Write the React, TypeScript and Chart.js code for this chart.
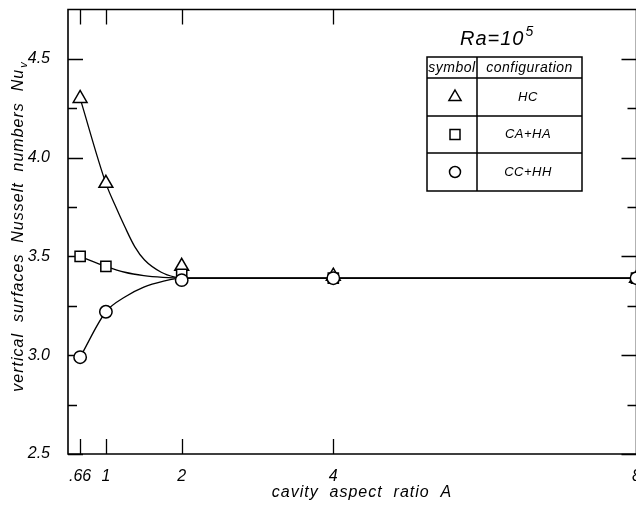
import React, { useEffect, useRef } from "react";
import { Chart, registerables } from "chart.js";

Chart.register(...registerables);

// ---- data ----
const xTickValues = [0.66, 1, 2, 4, 8];
const xTickLabels = [".66", "1", "2", "4", "8"];
const yMajorTicks = [2.5, 3.0, 3.5, 4.0, 4.5];
const yMinorTicks = [2.75, 3.25, 3.75, 4.25];

const aspectRatios = [0.66, 1, 2, 4, 8];
const hcValues = [4.3, 3.87, 3.45, 3.4, 3.39];
const caHaValues = [3.5, 3.45, 3.41, 3.39, 3.39];
const ccHhValues = [2.99, 3.22, 3.38, 3.39, 3.39];

// fitted curves drawn through the figure
const hcCurveX = [0.66, 1, 1.12, 1.25, 1.38, 1.51, 1.73, 1.91, 2, 4, 8];
const hcCurve = [4.3, 3.87, 3.76, 3.65, 3.55, 3.482, 3.42, 3.395, 3.39, 3.39, 3.39];
const curveX = [0.66, 1, 1.25, 1.5, 1.75, 2, 4, 8];
const caHaCurve = [3.5, 3.45, 3.42, 3.403, 3.394, 3.39, 3.39, 3.39];
const ccHhCurve = [2.99, 3.22, 3.295, 3.345, 3.374, 3.39, 3.39, 3.39];

const legendSymbols = ["triangle", "rect", "circle"];
const legendLabels = ["HC", "CA+HA", "CC+HH"];

const FONT = "'Liberation Sans', Arial, sans-serif";

function pts(xs: number[], ys: number[]) {
  return xs.map((x, i) => ({ x, y: ys[i] }));
}

function drawMarker(ctx: CanvasRenderingContext2D, kind: string, x: number, y: number) {
  ctx.save();
  ctx.lineWidth = 1.5;
  ctx.strokeStyle = "#000";
  ctx.fillStyle = "#fff";
  ctx.beginPath();
  if (kind === "triangle") {
    const r = 7;
    ctx.moveTo(x, y - r);
    ctx.lineTo(x + r * 0.866, y + r * 0.5);
    ctx.lineTo(x - r * 0.866, y + r * 0.5);
    ctx.closePath();
  } else if (kind === "rect") {
    ctx.rect(x - 5, y - 5, 10, 10);
  } else {
    ctx.arc(x, y, 5.5, 0, Math.PI * 2);
  }
  ctx.fill();
  ctx.stroke();
  ctx.restore();
}

const framePlugin = {
  id: "frameTicks",
  beforeDatasetsDraw(chart: any) {
    const { ctx, chartArea: a, scales } = chart;
    const xs = scales.x;
    const ys = scales.y;
    ctx.save();
    ctx.strokeStyle = "#000";
    ctx.lineWidth = 1.6;
    ctx.beginPath();
    ctx.moveTo(a.left, a.top);
    ctx.lineTo(a.right, a.top);
    ctx.lineTo(a.right, a.bottom);
    ctx.lineTo(a.left, a.bottom);
    ctx.closePath();
    ctx.stroke();
    ctx.lineWidth = 1.3;
    ctx.beginPath();
    for (const v of xTickValues) {
      const px = Math.round(xs.getPixelForValue(v)) + 0.5;
      ctx.moveTo(px, a.bottom);
      ctx.lineTo(px, a.bottom - 15);
      ctx.moveTo(px, a.top);
      ctx.lineTo(px, a.top + 15);
    }
    for (const v of yMajorTicks) {
      const py = Math.round(ys.getPixelForValue(v)) + 0.5;
      ctx.moveTo(a.left, py);
      ctx.lineTo(a.left + 15, py);
      ctx.moveTo(a.right, py);
      ctx.lineTo(a.right - 15, py);
    }
    for (const v of yMinorTicks) {
      const py = Math.round(ys.getPixelForValue(v)) + 0.5;
      ctx.moveTo(a.left, py);
      ctx.lineTo(a.left + 9, py);
      ctx.moveTo(a.right, py);
      ctx.lineTo(a.right - 9, py);
    }
    ctx.stroke();
    ctx.restore();
  },
  afterDraw(chart: any) {
    const { ctx } = chart;
    ctx.save();
    ctx.fillStyle = "#000";
    ctx.strokeStyle = "#000";
    (ctx as any).letterSpacing = "1px";

    // x axis title
    ctx.font = `italic 16px ${FONT}`;
    ctx.textAlign = "center";
    ctx.textBaseline = "middle";
    ctx.fillText("cavity  aspect  ratio  A", 362, 493);

    // y axis title (rotated)
    ctx.save();
    ctx.translate(19, 227);
    ctx.rotate(-Math.PI / 2);
    const main = "vertical  surfaces  Nusselt  numbers  Nu";
    ctx.font = `italic 16px ${FONT}`;
    const w1 = ctx.measureText(main).width;
    ctx.font = `italic 11px ${FONT}`;
    const w2 = ctx.measureText("v").width;
    const total = w1 + w2;
    ctx.textAlign = "left";
    ctx.font = `italic 16px ${FONT}`;
    ctx.fillText(main, -total / 2, 0);
    ctx.font = `italic 11px ${FONT}`;
    ctx.fillText("v", -total / 2 + w1 + 1, 5);
    ctx.restore();

    // Ra=10^5
    ctx.textAlign = "left";
    ctx.textBaseline = "alphabetic";
    ctx.font = `italic 20px ${FONT}`;
    ctx.fillText("Ra=10", 460, 45);
    const wr = ctx.measureText("Ra=10").width;
    ctx.font = `italic 14px ${FONT}`;
    ctx.fillText("5", 460 + wr + 1, 36);

    // legend table
    const L = 427, R = 582, D = 477;
    const rows = [57, 78, 116, 153, 191];
    ctx.lineWidth = 1.5;
    ctx.beginPath();
    ctx.rect(L, rows[0], R - L, rows[4] - rows[0]);
    for (let i = 1; i < 4; i++) {
      ctx.moveTo(L, rows[i]);
      ctx.lineTo(R, rows[i]);
    }
    ctx.moveTo(D, rows[0]);
    ctx.lineTo(D, rows[4]);
    ctx.stroke();

    ctx.textAlign = "center";
    ctx.textBaseline = "middle";
    (ctx as any).letterSpacing = "0.5px";
    ctx.font = `italic 14px ${FONT}`;
    ctx.fillText("symbol", (L + D) / 2, 68);
    ctx.fillText("configuration", (D + R) / 2, 68);
    ctx.font = `italic 13px ${FONT}`;
    for (let i = 0; i < 3; i++) {
      const cy = (rows[i + 1] + rows[i + 2]) / 2;
      drawMarker(ctx, legendSymbols[i], 455, cy);
      ctx.fillText(legendLabels[i], 528, cy);
    }
    ctx.restore();
  },
};

export default function App() {
  const ref = useRef<HTMLCanvasElement | null>(null);
  useEffect(() => {
    if (!ref.current) return;
    const markerBase = {
      type: "scatter" as const,
      showLine: false,
      borderColor: "#000",
      backgroundColor: "#fff",
      borderWidth: 1.5,
      clip: false as any,
    };
    const lineBase = {
      type: "line" as const,
      showLine: true,
      borderColor: "#000",
      borderWidth: 1.3,
      pointRadius: 0,
      fill: false,
      cubicInterpolationMode: "monotone" as const,
      clip: false as any,
    };
    const chart = new Chart(ref.current, {
      type: "scatter",
      data: {
        datasets: [
          { ...markerBase, label: "CC+HH", data: pts(aspectRatios, ccHhValues), pointStyle: "circle", pointRadius: 6.2 },
          { ...markerBase, label: "CA+HA", data: pts(aspectRatios, caHaValues), pointStyle: "rect", pointRadius: 7.2 },
          { ...markerBase, label: "HC", data: pts(aspectRatios, hcValues), pointStyle: "triangle", pointRadius: 8 },
          { ...lineBase, label: "HC curve", data: pts(hcCurveX, hcCurve) },
          { ...lineBase, label: "CA+HA curve", data: pts(curveX, caHaCurve) },
          { ...lineBase, label: "CC+HH curve", data: pts(curveX, ccHhCurve) },
        ] as any,
      },
      options: {
        responsive: false,
        animation: false,
        devicePixelRatio: 1,
        layout: { padding: { top: 8, right: 8, left: 0, bottom: 0 } },
        plugins: { legend: { display: false }, tooltip: { enabled: false } },
        scales: {
          x: {
            type: "linear",
            min: 0.5,
            max: 8,
            grid: { display: false },
            border: { display: false },
            afterBuildTicks: (s: any) => {
              s.ticks = xTickValues.map((v) => ({ value: v }));
            },
            afterFit: (s: any) => {
              s.height = 52;
              s.paddingLeft = 0;
              s.paddingRight = 0;
            },
            ticks: {
              color: "#000",
              padding: 5,
              maxRotation: 0,
              autoSkip: false,
              font: { family: FONT, size: 16, style: "italic" },
              callback: (v: any) => {
                const i = xTickValues.indexOf(Number(v));
                return i >= 0 ? xTickLabels[i] : "";
              },
            },
          },
          y: {
            type: "linear",
            min: 2.5,
            max: 4.75,
            grid: { display: false },
            border: { display: false },
            afterBuildTicks: (s: any) => {
              s.ticks = yMajorTicks.map((v) => ({ value: v }));
            },
            afterFit: (s: any) => {
              s.width = 68;
              s.paddingTop = 0;
              s.paddingBottom = 0;
            },
            ticks: {
              color: "#000",
              padding: 10,
              autoSkip: false,
              font: { family: FONT, size: 16, style: "italic" },
              callback: (v: any) => Number(v).toFixed(1),
            },
          },
        },
      },
      plugins: [framePlugin],
    });
    return () => chart.destroy();
  }, []);
  return (
    <div
      style={{
        position: "fixed",
        left: 0,
        top: 0,
        width: 636,
        height: 506,
        overflow: "hidden",
        background: "#fff",
      }}
    >
      <canvas ref={ref} width={646} height={506} style={{ display: "block" }} />
    </div>
  );
}
